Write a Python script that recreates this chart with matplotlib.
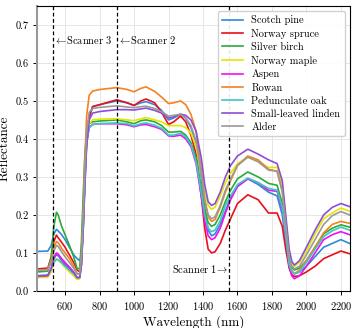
import matplotlib
matplotlib.use("Agg")
import matplotlib.pyplot as plt
import numpy as np

plt.rcParams['font.family'] = ['cmr10', 'DejaVu Serif']
plt.rcParams['mathtext.fontset'] = 'cm'
plt.rcParams['axes.formatter.use_mathtext'] = True

# wavelength knots (nm)
wl = [440, 500, 520, 535, 550, 560, 580, 600, 625, 650,
      670, 685, 695, 705, 715, 725, 740, 760, 800, 900,
      960, 1000, 1040, 1070, 1120, 1160, 1200, 1230, 1270, 1300,
      1330, 1360, 1390, 1410, 1430, 1450, 1470, 1500, 1530, 1560,
      1600, 1660, 1720, 1780, 1830, 1860, 1880, 1900, 1915, 1930,
      1960, 2000, 2050, 2100, 2150, 2200, 2250]

scotch_pine = [.104, .105, .12, .15, .162, .158, .148, .135, .115, .095,
               .085, .08, .095, .16, .28, .39, .455, .485, .49, .50,
               .495, .488, .495, .498, .49, .475, .45, .455, .465, .455,
               .43, .39, .30, .22, .16, .145, .15, .175, .21, .245,
               .275, .295, .28, .26, .25, .20, .13, .07, .052, .045,
               .05, .065, .09, .115, .125, .135, .125]
norway_spruce = [.058, .06, .09, .13, .147, .14, .128, .115, .095, .075,
                 .055, .05, .08, .17, .30, .40, .46, .485, .49, .503,
                 .495, .488, .50, .505, .495, .47, .438, .445, .46, .445,
                 .41, .36, .25, .165, .11, .10, .103, .125, .16, .19,
                 .23, .253, .24, .205, .205, .17, .11, .06, .043, .038,
                 .04, .05, .065, .085, .095, .105, .098]
silver_birch = [.05, .052, .09, .17, .207, .20, .17, .148, .12, .09,
                .058, .06, .13, .25, .36, .41, .44, .445, .447, .45,
                .445, .44, .448, .45, .445, .435, .418, .418, .42, .41,
                .39, .35, .27, .215, .18, .17, .175, .20, .235, .265,
                .295, .313, .30, .283, .278, .23, .15, .08, .062, .055,
                .06, .08, .115, .15, .165, .174, .168]
norway_maple = [.035, .036, .05, .075, .085, .082, .072, .062, .05, .04,
                .03, .032, .07, .17, .30, .39, .44, .45, .452, .453,
                .45, .448, .453, .456, .45, .445, .435, .435, .435, .43,
                .415, .38, .31, .26, .225, .215, .22, .25, .285, .31,
                .335, .352, .34, .325, .325, .28, .19, .10, .074, .065,
                .075, .105, .15, .19, .205, .218, .21]
aspen = [.038, .04, .06, .09, .10, .097, .085, .075, .063, .05,
         .035, .035, .07, .17, .30, .39, .43, .438, .44, .44,
         .437, .432, .437, .438, .432, .425, .408, .407, .41, .40,
         .38, .335, .25, .185, .145, .135, .14, .165, .205, .24,
         .275, .295, .285, .265, .262, .215, .14, .065, .04, .032,
         .04, .065, .10, .135, .148, .156, .148]
rowan = [.055, .056, .08, .115, .13, .127, .112, .10, .085, .065,
         .045, .045, .09, .20, .35, .46, .515, .526, .53, .535,
         .53, .524, .533, .537, .525, .51, .493, .495, .50, .49,
         .465, .42, .32, .24, .195, .183, .188, .22, .26, .29,
         .33, .355, .345, .32, .315, .26, .17, .08, .053, .045,
         .055, .08, .115, .153, .175, .183, .178]
pedunculate_oak = [.04, .042, .058, .075, .083, .082, .074, .065, .055, .045,
                   .035, .036, .07, .17, .30, .39, .43, .438, .44, .442,
                   .44, .434, .44, .442, .436, .428, .41, .41, .415, .405,
                   .385, .34, .26, .20, .165, .156, .16, .185, .225, .25,
                   .28, .297, .285, .27, .265, .22, .145, .07, .052, .045,
                   .05, .075, .11, .143, .158, .168, .16]
small_leaved_linden = [.04, .041, .06, .085, .095, .093, .08, .07, .06, .048,
                       .035, .036, .07, .16, .28, .38, .45, .468, .472, .477,
                       .477, .476, .479, .481, .475, .468, .455, .458, .465, .462,
                       .45, .42, .35, .28, .235, .225, .23, .26, .30, .33,
                       .355, .373, .36, .345, .335, .29, .20, .11, .078, .068,
                       .08, .115, .16, .20, .22, .23, .222]
alder = [.055, .056, .075, .105, .12, .117, .103, .09, .075, .06,
         .045, .045, .09, .19, .32, .42, .47, .48, .483, .487,
         .484, .482, .485, .486, .48, .472, .46, .462, .465, .455,
         .435, .395, .31, .24, .20, .19, .195, .225, .265, .295,
         .33, .352, .34, .318, .315, .265, .175, .09, .066, .058,
         .065, .095, .135, .175, .198, .209, .20]

species = ['Scotch pine', 'Norway spruce', 'Silver birch', 'Norway maple', 'Aspen',
           'Rowan', 'Pedunculate oak', 'Small-leaved linden', 'Alder']
spectra = [scotch_pine, norway_spruce, silver_birch, norway_maple, aspen,
           rowan, pedunculate_oak, small_leaved_linden, alder]
colors = ['#2f8ad8', '#e8101a', '#2aaa3a', '#e6e600', '#f010f0',
          '#f5821f', '#3cc6c6', '#8b4fd6', '#999999']

scanner_wl = [1550, 900, 528]

fig = plt.figure(figsize=(3.57, 3.28), dpi=100)
ax = fig.add_axes([0.105, 0.113, 0.875, 0.869])

for name, spec, c in zip(species, spectra, colors):
    ax.plot(wl, spec, color=c, lw=1.2, label=name)

for s in scanner_wl:
    ax.axvline(s, color='k', ls='--', lw=0.9, dashes=(3, 2))

ax.text(scanner_wl[2] + 6, 0.66, r'$\leftarrow\!\mathrm{Scanner\ 3}$', fontsize=7.5, va='center')
ax.text(scanner_wl[1] + 6, 0.66, r'$\leftarrow\!\mathrm{Scanner\ 2}$', fontsize=7.5, va='center')
ax.text(scanner_wl[0] - 6, 0.058, r'$\mathrm{Scanner\ 1}\!\rightarrow$', fontsize=7.5,
        va='center', ha='right')

ax.set_xlim(440, 2252)
ax.set_ylim(0, 0.75)
ax.set_xticks([600, 800, 1000, 1200, 1400, 1600, 1800, 2000, 2200])
ax.set_yticks([0.0, 0.1, 0.2, 0.3, 0.4, 0.5, 0.6, 0.7])
ax.yaxis.set_major_formatter(matplotlib.ticker.FormatStrFormatter('%.1f'))
ax.tick_params(labelsize=7.5, length=3, width=0.7)
ax.grid(True, color='#e6e6e6', lw=0.7)
ax.set_axisbelow(True)
ax.spines['left'].set_color('#999999')
ax.spines['left'].set_linewidth(1.5)
ax.set_xlabel('Wavelength (nm)', fontsize=9.5, labelpad=2)
ax.set_ylabel('Reflectance', fontsize=9.5, labelpad=3)

leg = ax.legend(loc='upper right', fontsize=7.5, handlelength=2.0, borderpad=0.4,
                labelspacing=0.35, framealpha=0.9, fancybox=True)
leg.get_frame().set_edgecolor('#cccccc')

fig.savefig('out.png', dpi=100)
